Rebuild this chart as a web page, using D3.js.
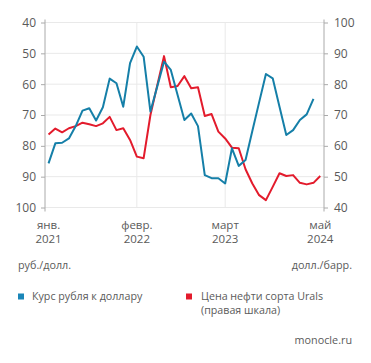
<!DOCTYPE html>
<html>
<head>
<meta charset="utf-8">
<script src="https://cdn.jsdelivr.net/npm/d3@7"></script>
<style>
  body { margin: 0; background: #fff; }
  svg text { font-family: 'Open Sans', sans-serif; fill: #5a5a5a; }
</style>
</head>
<body>
<svg width="371" height="363"></svg>
<script>
// month index 0 = Jan 2021
const rub = [85.7, 79.2, 79.0, 77.6, 73.6, 68.6, 67.8, 71.8, 67.5, 58.2,
  59.7, 67.3, 53.2, 47.8, 51.1, 68.9, 60.8, 52.7, 55.4, 63.5,
  71.6, 69.5, 73.6, 89.5, 90.5, 90.5, 92.2, 80.8, 86.5, 84.6,
  75.2, 65.9, 56.7, 58.1, 67.3, 76.5, 74.9, 71.6, 69.8, 64.8];
const urals = [63.7, 65.6, 64.4, 65.7, 66.4, 67.5, 67.0, 66.4, 67.3, 69.4,
  65.1, 65.7, 61.9, 56.5, 56.0, 70.0, 79.6, 89.1, 79.0, 79.4,
  82.6, 78.7, 79.0, 69.7, 70.3, 64.6, 62.4, 59.4, 59.2, 52.4,
  47.8, 44.0, 42.4, 46.7, 51.1, 50.2, 50.5, 48.0, 47.5, 48.0, 50.2];
const xTicks = [
  { i: 0, l1: 'янв.', l2: '2021' },
  { i: 13, l1: 'февр.', l2: '2022' },
  { i: 26, l1: 'март', l2: '2023' },
  { i: 40, l1: 'май', l2: '2024' }
];
const leftTicks = [40, 50, 60, 70, 80, 90, 100];
const rightTicks = [100, 90, 80, 70, 60, 50, 40];

const svg = d3.select('svg');
const plot = { left: 45, right: 324, top: 22.5, bottom: 207.5 };

const x = d3.scaleLinear().domain([-0.52, 40.55]).range([plot.left, plot.right]);
const yL = d3.scaleLinear().domain([40, 100]).range([plot.top, plot.bottom]);
const yR = d3.scaleLinear().domain([100, 40]).range([plot.top, plot.bottom]);

// horizontal grid
svg.append('g')
  .selectAll('line')
  .data(leftTicks)
  .enter()
  .append('line')
  .attr('x1', plot.left)
  .attr('x2', plot.right)
  .attr('y1', d => yL(d))
  .attr('y2', d => yL(d))
  .attr('stroke', '#e9e9e9')
  .attr('stroke-width', 1);

// vertical grid
svg.append('g')
  .selectAll('line')
  .data(xTicks.filter(d => d.i > 0 && d.i < 40))
  .enter()
  .append('line')
  .attr('x1', d => x(d.i))
  .attr('x2', d => x(d.i))
  .attr('y1', plot.top)
  .attr('y2', plot.bottom)
  .attr('stroke', '#e9e9e9')
  .attr('stroke-width', 1);

// Left axis
const axL = svg.append('g')
  .attr('transform', `translate(${plot.left},0)`)
  .call(d3.axisLeft(yL).tickValues(leftTicks).tickSize(4).tickPadding(5));
axL.select('.domain').attr('stroke', '#aaa').attr('d', `M0,${plot.top - 3}V${plot.bottom + 4}`);
axL.selectAll('.tick line').attr('stroke', '#aaa');
axL.selectAll('.tick text').attr('font-size', 12).attr('fill', '#666')
  .style('font-family', "'Open Sans', sans-serif");

// Right axis
const axR = svg.append('g')
  .attr('transform', `translate(${plot.right},0)`)
  .call(d3.axisRight(yR).tickValues(rightTicks).tickSize(4).tickPadding(6));
axR.select('.domain').attr('stroke', '#aaa').attr('d', `M0,${plot.top - 3}V${plot.bottom + 4}`);
axR.selectAll('.tick line').attr('stroke', '#aaa');
axR.selectAll('.tick text').attr('font-size', 12).attr('fill', '#666')
  .style('font-family', "'Open Sans', sans-serif");

// X labels
const xl = svg.append('g')
  .selectAll('g')
  .data(xTicks)
  .enter()
  .append('g')
  .attr('transform', d => `translate(${x(d.i)},0)`);
xl.append('text')
  .attr('y', 229)
  .attr('text-anchor', 'middle')
  .attr('font-size', 11.5)
  .text(d => d.l1);
xl.append('text')
  .attr('y', 242.5)
  .attr('text-anchor', 'middle')
  .attr('font-size', 11.5)
  .text(d => d.l2);

// Lines
const lineL = d3.line().x((d, i) => x(i)).y(d => yL(d));
const lineR = d3.line().x((d, i) => x(i)).y(d => yR(d));

svg.append('path')
  .datum(urals)
  .attr('d', lineR)
  .attr('fill', 'none')
  .attr('stroke', '#e31b2c')
  .attr('stroke-width', 2)
  .attr('stroke-linejoin', 'round');

svg.append('path')
  .datum(rub)
  .attr('d', lineL)
  .attr('fill', 'none')
  .attr('stroke', '#157fa8')
  .attr('stroke-width', 2)
  .attr('stroke-linejoin', 'round');

// Units
svg.append('text').attr('x', 18).attr('y', 269).attr('font-size', 10.8).text('руб./долл.');
svg.append('text').attr('x', 352).attr('y', 269).attr('font-size', 10.8)
  .attr('text-anchor', 'end').text('долл./барр.');

// Legend
svg.append('rect').attr('x', 18).attr('y', 293.5).attr('width', 6).attr('height', 6).attr('fill', '#1a86b8');
svg.append('text').attr('x', 32).attr('y', 300).attr('font-size', 10.7).text('Курс рубля к доллару');
svg.append('rect').attr('x', 186).attr('y', 293.5).attr('width', 6).attr('height', 6).attr('fill', '#e31b2c');
svg.append('text').attr('x', 201).attr('y', 300).attr('font-size', 10.7).text('Цена нефти сорта Urals');
svg.append('text').attr('x', 201).attr('y', 314).attr('font-size', 10.7).text('(правая шкала)');

// Source
svg.append('text').attr('x', 352).attr('y', 344).attr('font-size', 10.8)
  .attr('text-anchor', 'end').text('monocle.ru');
</script>
</body>
</html>
